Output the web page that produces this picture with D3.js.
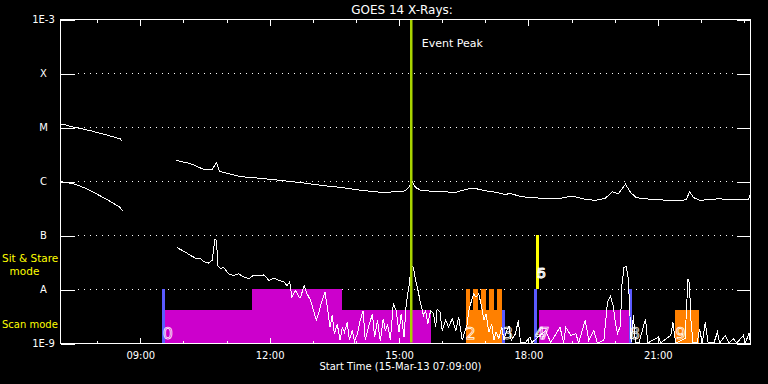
<!DOCTYPE html>
<html>
<head>
<meta charset="utf-8">
<script src="https://cdn.jsdelivr.net/npm/d3@7"></script>
<style>
  body { margin: 0; background: #000; }
  svg { display: block; }
  text { font-family: "DejaVu Sans", sans-serif; }
</style>
</head>
<body>
<svg id="chart" width="768" height="384"></svg>
<script>
// GOES 14 X-ray flux, 15-Mar-13 from 07:09:00, times in minutes after start

const startTime = Date.UTC(2013, 2, 15, 7, 9, 0);
const spanMinutes = 960;

const levelValues = [1e-9, 1e-8, 1e-7, 1e-6, 1e-5, 1e-4, 1e-3];
const levelLabels = ["1E-9", "A", "B", "C", "M", "X", "1E-3"];

// long channel (1-8 A), log10 flux, null = data gap
const longMinutes = [0, 7, 14, 28, 42, 56, 70, 78, 83, 86, 120,
  161, 181, 200, 211, 217, 221, 236, 250, 278, 306, 334, 362, 390, 417, 445, 473,
  480, 486, 488, 491, 494, 501, 515, 529, 550, 566, 577, 591, 605, 619, 626, 640,
  668, 696, 712, 730, 744, 758, 768, 776, 786, 793, 801, 821, 849, 863, 871, 875,
  881, 890, 904, 918, 932, 946, 957, 960];
const longLogFlux = [-4.94, -4.95, -4.98, -5.02, -5.06, -5.11, -5.16, -5.19, -5.21, -5.26, null,
  -5.61, -5.67, -5.78, -5.78, -5.65, -5.81, -5.86, -5.91, -5.94, -5.98, -6.02, -6.07, -6.11, -6.16, -6.20, -6.19,
  -6.17, -6.09, -5.98, -6.04, -6.11, -6.16, -6.18, -6.19, -6.20, -6.14, -6.13, -6.17, -6.20, -6.24, -6.22, -6.28,
  -6.31, -6.31, -6.27, -6.33, -6.35, -6.31, -6.19, -6.23, -6.05, -6.20, -6.30, -6.33, -6.35, -6.36, -6.33, -6.19,
  -6.30, -6.35, -6.33, -6.32, -6.34, -6.33, -6.34, -6.22];

// short channel (0.5-4 A)
const shortMinutes = [0, 7, 18, 32, 46, 60, 72, 83, 86, 120,
  162, 167, 174, 181, 188, 195, 199, 206, 211, 215, 217, 219, 223, 227, 234, 241, 248, 255,
  262, 269, 276, 283, 290, 297, 304, 311, 315, 319, 322, 327, 332, 334, 339, 343, 348, 352,
  356, 359, 364, 368, 371, 375, 378, 381, 385, 389, 392, 395, 399, 402, 406, 409, 413, 417,
  421, 424, 429, 434, 437, 441, 445, 449, 452, 455, 459, 463, 467, 471, 474, 478, 481, 485,
  488, 491, 494, 497, 501, 505, 508, 511, 515, 519, 522, 524, 528, 531, 536, 540, 545, 550,
  554, 559, 563, 566, 568, 572, 575, 578, 582, 586, 589, 592, 596, 600, 603, 606, 610, 614,
  617, 620, 624, 627, 633, 637, 640, 647, 653, 656, 675, 682, 695, 700, 703, 710, 717, 721,
  730, 735, 742, 747, 756, 761, 765, 769, 772, 775, 779, 781, 784, 787, 790, 792, 794, 797,
  800, 805, 814, 817, 832, 835, 849, 852, 856, 869, 873, 875, 877, 880, 886, 889, 893, 897,
  901, 909, 914, 917, 925, 930, 936, 941, 950, 953, 958, 960];
const shortLogFlux = [-6.00, -6.02, -6.04, -6.11, -6.20, -6.30, -6.39, -6.48, -6.54, null,
  -7.22, -7.26, -7.31, -7.37, -7.42, -7.43, -7.48, -7.51, -7.46, -7.06, -7.09, -7.56, -7.61, -7.59, -7.71, -7.74, -7.71, -7.77,
  -7.80, -7.73, -7.75, -7.73, -7.83, -7.79, -7.83, -7.86, -7.93, -7.86, -8.14, -8.02, -8.14, -8.14, -7.93, -8.08, -8.20, -8.39,
  -8.57, -8.45, -8.20, -8.05, -8.30, -8.70, -8.48, -8.82, -8.64, -8.94, -8.70, -8.79, -8.61, -8.94, -8.76, -8.96, -8.82, -8.57,
  -8.39, -8.94, -8.67, -8.45, -8.88, -8.57, -8.96, -8.54, -8.76, -8.64, -8.94, -8.26, -8.39, -8.79, -8.45, -8.88, -8.26, -7.93,
  -7.56, -7.59, -7.83, -7.99, -8.26, -8.48, -8.39, -8.64, -8.39, -8.45, -8.70, -8.36, -8.42, -8.76, -8.57, -8.70, -8.54, -8.76,
  -8.51, -8.94, -8.76, -8.64, -8.39, -8.20, -8.08, -8.14, -8.08, -8.33, -8.57, -8.45, -8.79, -8.64, -8.94, -8.79, -8.91, -8.70,
  -8.94, -8.79, -8.67, -8.94, -8.82, -8.57, -8.98, -8.98, -8.88, -8.98, -8.76, -8.98, -8.70, -8.98, -8.70, -8.85, -8.82, -8.99,
  -8.57, -8.94, -8.76, -8.99, -8.94, -8.24, -8.12, -8.30, -8.61, -8.82, -8.67, -7.93, -7.59, -7.57, -7.80, -8.39, -8.98, -8.48,
  -8.99, -8.98, -8.54, -8.99, -8.88, -8.99, -8.85, -8.61, -8.99, -8.91, -7.80, -7.89, -8.54, -8.99, -8.99, -8.73, -8.99, -8.61,
  -8.99, -8.99, -8.79, -8.99, -8.85, -8.99, -8.91, -8.99, -8.85, -8.99, -8.80, -8.99];

const eventPeakMinute = 488;

// observation blocks (scan / sit & stare)
const blockStart = [143.0, 267.4, 392.6, 564.2, 564.2, 574.6, 585.7, 596.9, 608.0, 667.1, 856.3];
const blockEnd   = [267.4, 392.6, 516.5, 616.1, 570.7, 581.1, 592.3, 603.4, 614.5, 792.3, 889.7];
const blockMode  = ["scan", "stare", "scan", "scan", "stare", "stare", "stare", "stare", "stare", "scan", "scan"];
const blockColor = ["#cc00cc", "#cc00cc", "#cc00cc", "#ff8000", "#ff8000", "#ff8000", "#ff8000", "#ff8000", "#ff8000", "#cc00cc", "#ff8000"];

const markerMinute = [143.0, 615.9, 660.6, 792.8];
const markerMode = ["stare", "scan", "stare", "stare"];
const stareMarkerMinute = 663.5;

const obsNumbers = ["0", "2", "3", "4", "7", "5", "6", "8", "9"];
const obsNumberMinute = [143.0, 564.2, 615.9, 660.6, 667.1, 663.5, 663.5, 792.8, 856.3];
const obsNumberRow = ["low", "low", "low", "low", "low", "high", "high", "low", "low"];

const svg = d3.select("#chart");
const plotLeft = 60.5, plotRight = 750.5, plotTop = 19.5, plotBottom = 343.5;

const toDate = m => new Date(startTime + m * 60000);

const x = d3.scaleUtc()
  .domain([toDate(0), toDate(spanMinutes)])
  .range([plotLeft, plotRight]);

const y = d3.scaleLog()
  .domain([1e-9, 1e-3])
  .range([plotBottom, plotTop]);

const modeLevel = { scan: Math.pow(10, -8.38), stare: 1e-8 };

svg.append("rect").attr("width", 768).attr("height", 384).attr("fill", "#000");

// dotted level lines
svg.append("g")
  .selectAll("line")
  .data(levelValues.slice(1, -1))
  .enter()
  .append("line")
  .attr("x1", 78).attr("x2", 736)
  .attr("y1", d => y(d)).attr("y2", d => y(d))
  .attr("stroke", "#fff")
  .attr("stroke-dasharray", "1,5")
  .attr("shape-rendering", "crispEdges");

// observation blocks
const blocks = blockStart.map((s, i) => ({ s, e: blockEnd[i], mode: blockMode[i], color: blockColor[i] }));
svg.append("g")
  .selectAll("rect")
  .data(blocks)
  .enter()
  .append("rect")
  .attr("x", d => x(toDate(d.s)) - 0.5)
  .attr("width", d => x(toDate(d.e)) - x(toDate(d.s)))
  .attr("y", d => Math.floor(y(modeLevel[d.mode])))
  .attr("height", d => 343 - Math.floor(y(modeLevel[d.mode])))
  .attr("fill", d => d.color)
  .attr("shape-rendering", "crispEdges");

// start markers
svg.append("g")
  .selectAll("rect")
  .data(markerMinute.map((m, i) => ({ m, mode: markerMode[i] })))
  .enter()
  .append("rect")
  .attr("x", d => x(toDate(d.m)) - 1.5)
  .attr("width", 3)
  .attr("y", d => Math.floor(y(modeLevel[d.mode])))
  .attr("height", d => 343 - Math.floor(y(modeLevel[d.mode])))
  .attr("fill", "#5a5aff")
  .attr("shape-rendering", "crispEdges");

svg.append("rect")
  .attr("x", x(toDate(stareMarkerMinute)) - 1.5)
  .attr("width", 3)
  .attr("y", Math.floor(y(1e-7)))
  .attr("height", Math.floor(y(1e-8)) - Math.floor(y(1e-7)))
  .attr("fill", "#ffff00")
  .attr("shape-rendering", "crispEdges");

// flux curves
const line = d3.line()
  .defined(d => d.v !== null)
  .x(d => x(toDate(d.m)))
  .y(d => y(Math.pow(10, d.v)));

const longData = longMinutes.map((m, i) => ({ m, v: longLogFlux[i] }));
const shortData = shortMinutes.map((m, i) => ({ m, v: shortLogFlux[i] }));

[longData, shortData].forEach(data => {
  svg.append("path")
    .datum(data)
    .attr("d", line)
    .attr("fill", "none")
    .attr("stroke", "#fff")
    .attr("stroke-width", 1)
    .attr("shape-rendering", "crispEdges");
});

// event peak
svg.append("line")
  .attr("x1", x(toDate(eventPeakMinute))).attr("x2", x(toDate(eventPeakMinute)))
  .attr("y1", plotTop).attr("y2", plotBottom - 1)
  .attr("stroke", "#a8d400")
  .attr("stroke-width", 2.5);

svg.append("text")
  .attr("x", x(toDate(eventPeakMinute)) + 10.5)
  .attr("y", 47)
  .attr("fill", "#fff")
  .style("font-size", "11px")
  .text("Event Peak");

// observation numbers (hollow digits)
svg.append("g")
  .selectAll("text")
  .data(obsNumbers.map((t, i) => ({ t, m: obsNumberMinute[i], row: obsNumberRow[i] })))
  .enter()
  .append("text")
  .attr("x", d => x(toDate(d.m)) - 0.5)
  .attr("y", d => d.row === "low" ? 338.5 : 277.5)
  .attr("fill", "none")
  .attr("stroke", "#fff")
  .attr("stroke-width", 0.75)
  .style("font-size", d => d.row === "low" ? "16px" : "14px")
  .text(d => d.t);

// axes
function styleAxis(g) {
  g.select(".domain").remove();
  g.selectAll("line").attr("stroke", "#fff").attr("shape-rendering", "crispEdges");
  g.selectAll("text").attr("fill", "#fff").style("font-size", "10px").style("font-family", "DejaVu Sans, sans-serif");
}

svg.append("g")
  .attr("transform", `translate(0,${plotBottom})`)
  .call(d3.axisBottom(x).ticks(d3.utcHour.every(1)).tickSize(-3).tickFormat(""))
  .call(styleAxis);

svg.append("g")
  .attr("transform", `translate(0,${plotBottom})`)
  .call(d3.axisBottom(x).ticks(d3.utcHour.every(3)).tickSize(-6).tickFormat(d3.utcFormat("%H:%M")))
  .call(styleAxis)
  .selectAll("text")
  .attr("y", 15)
  .attr("dy", null);

svg.append("g")
  .attr("transform", `translate(0,${plotTop})`)
  .call(d3.axisTop(x).ticks(d3.utcHour.every(1)).tickSize(-3).tickFormat(""))
  .call(styleAxis);

svg.append("g")
  .attr("transform", `translate(0,${plotTop})`)
  .call(d3.axisTop(x).ticks(d3.utcHour.every(3)).tickSize(-6).tickFormat(""))
  .call(styleAxis);

svg.append("g")
  .attr("transform", `translate(${plotLeft},0)`)
  .call(d3.axisLeft(y).tickValues(levelValues).tickSize(-14).tickFormat((d, i) => levelLabels[i]))
  .call(styleAxis)
  .selectAll("text")
  .attr("x", -17)
  .attr("text-anchor", "middle");

svg.append("g")
  .attr("transform", `translate(${plotRight},0)`)
  .call(d3.axisRight(y).tickValues(levelValues).tickSize(-14).tickFormat(""))
  .call(styleAxis);

// frame
svg.append("rect")
  .attr("x", plotLeft).attr("y", plotTop)
  .attr("width", plotRight - plotLeft).attr("height", plotBottom - plotTop)
  .attr("fill", "none")
  .attr("stroke", "#fff")
  .attr("shape-rendering", "crispEdges");

// titles and mode labels
svg.append("text")
  .attr("x", 402).attr("y", 14)
  .attr("text-anchor", "middle")
  .attr("fill", "#fff")
  .style("font-size", "12px")
  .text("GOES 14 X-Rays:");

svg.append("text")
  .attr("x", 400.5).attr("y", 370)
  .attr("text-anchor", "middle")
  .attr("fill", "#fff")
  .style("font-size", "10px")
  .text("Start Time (15-Mar-13 07:09:00)");

svg.append("text")
  .attr("x", 2).attr("y", 262)
  .attr("fill", "#ffff00")
  .style("font-size", "10.5px")
  .text("Sit & Stare");

svg.append("text")
  .attr("x", 24.5).attr("y", 275)
  .attr("text-anchor", "middle")
  .attr("fill", "#ffff00")
  .style("font-size", "10.5px")
  .text("mode");

svg.append("text")
  .attr("x", 2).attr("y", 327.5)
  .attr("fill", "#ffff00")
  .style("font-size", "10px")
  .text("Scan mode");
</script>
</body>
</html>
